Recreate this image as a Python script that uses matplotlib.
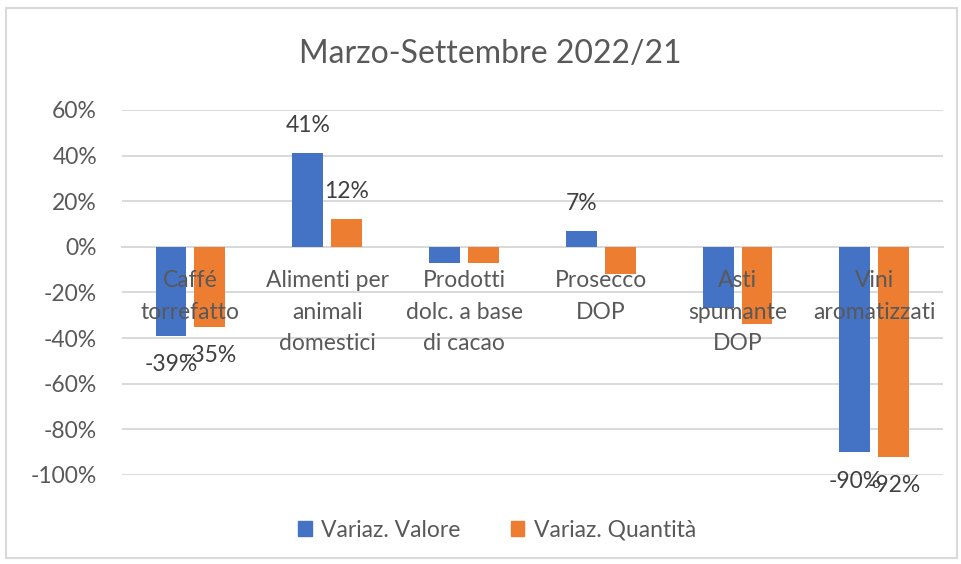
import matplotlib.pyplot as plt
import matplotlib.patches as mpatches
from matplotlib.ticker import FuncFormatter
import numpy as np

plt.rcParams['font.family'] = ['Lato', 'DejaVu Sans']

# Dati (variazioni percentuali)
categorie = ["Caffé\ntorrefatto", "Alimenti per\nanimali\ndomestici",
             "Prodotti\ndolc. a base\ndi cacao", "Prosecco\nDOP",
             "Asti\nspumante\nDOP", "Vini\naromatizzati"]
var_valore = [-0.39, 0.41, -0.07, 0.07, -0.27, -0.90]
var_quantita = [-0.35, 0.12, -0.07, -0.12, -0.34, -0.92]
# etichette mostrate nel grafico originale
mostra_valore = [True, True, False, True, False, True]
mostra_quantita = [True, True, False, False, False, True]

BLU = "#4472C4"
ARANCIO = "#ED7D31"
GRIGIO = "#595959"
FS = 16.5

fig = plt.figure(figsize=(9.61, 5.64), dpi=100)
ax = fig.add_axes([0.127, 0.158, 0.854, 0.647])

x = np.arange(len(categorie))
w = 0.226
off = 0.142
b1 = ax.bar(x - off, var_valore, w, color=BLU, zorder=3)
b2 = ax.bar(x + off, var_quantita, w, color=ARANCIO, zorder=3)

# Etichette dati
for bars, vals, mostra in [(b1, var_valore, mostra_valore), (b2, var_quantita, mostra_quantita)]:
    for r, v, m in zip(bars, vals, mostra):
        if not m:
            continue
        dy = 20 if v >= 0 else -21
        ax.annotate(f"{round(v*100):d}%", (r.get_x() + r.get_width() / 2, v),
                    xytext=(0, dy), textcoords="offset points",
                    ha="center", va="center", fontsize=FS, color="#404040", zorder=5)

ax.set_xlim(-0.5, len(categorie) - 0.5)
ax.set_ylim(-1.0, 0.6)
ax.set_yticks(np.arange(-1.0, 0.61, 0.2))
ax.yaxis.set_major_formatter(FuncFormatter(lambda v, p: f"{round(v*100):d}%"))
ax.grid(axis="y", color="#D9D9D9", linewidth=1.4, zorder=0)
ax.set_axisbelow(True)

ax.spines["bottom"].set_position(("data", 0))
ax.spines["bottom"].set_color("#D9D9D9")
ax.spines["bottom"].set_linewidth(1.4)
for s in ["top", "right", "left"]:
    ax.spines[s].set_visible(False)

ax.set_xticks(x)
ax.set_xticklabels(categorie, fontsize=FS, color=GRIGIO, linespacing=1.6)
ax.xaxis.set_zorder(6)  # nomi categorie sopra le barre
ax.tick_params(axis="x", length=0, pad=17)
ax.tick_params(axis="y", length=0, pad=18, labelsize=FS, labelcolor=GRIGIO)

fig.text(0.51, 0.905, "Marzo-Settembre 2022/21", ha="center", va="center",
         fontsize=23, color=GRIGIO)

handles = [mpatches.Patch(color=BLU, label="Variaz. Valore"),
           mpatches.Patch(color=ARANCIO, label="Variaz. Quantità")]
leg = fig.legend(handles=handles, loc="center", bbox_to_anchor=(0.517, 0.06),
                 ncol=2, frameon=False, fontsize=FS, handlelength=0.6,
                 handleheight=0.6, handletextpad=0.4, columnspacing=2.2)
for t in leg.get_texts():
    t.set_color(GRIGIO)

# bordo del grafico
fig.patches.append(mpatches.Rectangle((0.006, 0.01), 0.99, 0.975, transform=fig.transFigure,
                                      fill=False, edgecolor="#D9D9D9", linewidth=1.5))

fig.savefig("out.png", dpi=100)
